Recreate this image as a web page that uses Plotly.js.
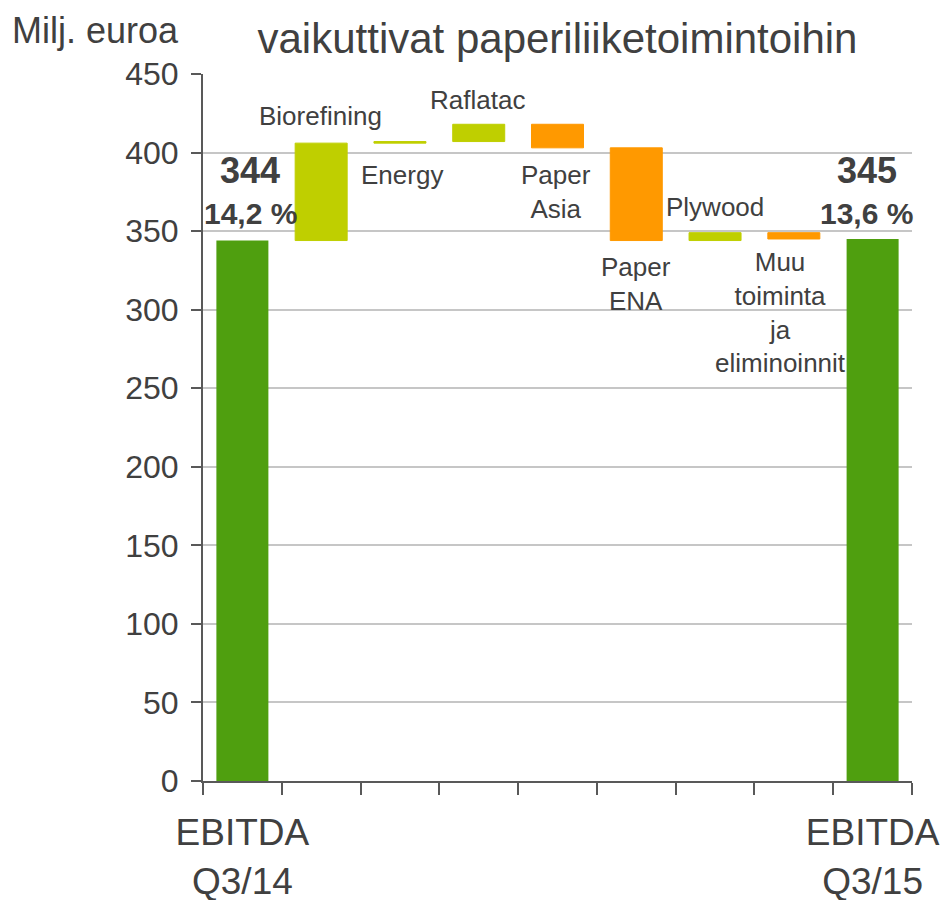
<!DOCTYPE html>
<html>
<head>
<meta charset="utf-8">
<script src="https://cdn.plot.ly/plotly-3.0.1.min.js"></script>
<style>html,body{margin:0;padding:0;background:#fff;}#chart{width:945px;height:900px;}</style>
</head>
<body>
<div id="chart"></div>
<script>
// Data
var categories = ["EBITDA Q3/14", "Biorefining", "Energy", "Raflatac", "Paper Asia", "Paper ENA", "Plywood", "Muu toiminta ja eliminoinnit", "EBITDA Q3/15"];
var measures = ["absolute", "relative", "relative", "relative", "relative", "relative", "relative", "relative", "total"];
var values = [344, 62, 1, 11, -15, -59, 5, -4, 0];
var tickLabels = ["EBITDA<br>Q3/14", "", "", "", "", "", "", "", "EBITDA<br>Q3/15"];
var barLabels = ["", "Biorefining", "Energy", "Raflatac", "Paper<br>Asia", "Paper<br>ENA", "Plywood", "Muu<br>toiminta<br>ja<br>eliminoinnit", ""];
var totalValues = ["344", "345"];
var margins = ["14,2 %", "13,6 %"];

var FONT = "Liberation Sans, Arial, Helvetica, sans-serif";
var TXT = "#404040";

var trace = {
  type: "waterfall",
  x: categories,
  y: values,
  measure: measures,
  width: 0.66,
  connector: {visible: false},
  increasing: {marker: {color: "#BFCF00", line: {color: "#BFCF00", width: 1}}},
  decreasing: {marker: {color: "#FF9900", line: {color: "#FF9900", width: 1}}},
  totals: {marker: {color: "#4F9F0F"}},
  textinfo: "none",
  hoverinfo: "x+y"
};

// label positions (data y, x pixel shift)
var labelY = [null, 423.3, 385.7, 433.5, 374.6, 316.3, 365.4, 298.2, null];
var labelShift = [0, -1, 2, -1, -2, 0, 0, -13, 0];
var annotations = [];
for (var i = 0; i < categories.length; i++) {
  if (!barLabels[i]) continue;
  annotations.push({
    x: categories[i], y: labelY[i], xref: "x", yref: "y",
    text: barLabels[i], showarrow: false, xshift: labelShift[i],
    xanchor: "center", yanchor: "middle",
    font: {family: FONT, size: 26, color: TXT}
  });
}
var endIdx = [0, categories.length - 1];
var endShift = [8, -6];
for (var j = 0; j < 2; j++) {
  annotations.push({
    x: categories[endIdx[j]], y: 388.5, xref: "x", yref: "y",
    text: "<b>" + totalValues[j] + "</b>", showarrow: false, xshift: endShift[j],
    xanchor: "center", yanchor: "middle",
    font: {family: FONT, size: 36, color: TXT}
  });
  annotations.push({
    x: categories[endIdx[j]], y: 361.4, xref: "x", yref: "y",
    text: "<b>" + margins[j] + "</b>", showarrow: false, xshift: endShift[j],
    xanchor: "center", yanchor: "middle",
    font: {family: FONT, size: 30, color: TXT}
  });
}
annotations.push({
  x: 0, y: 1, xref: "paper", yref: "paper", xshift: -193, yshift: 44,
  xanchor: "left", yanchor: "middle", showarrow: false,
  text: "Milj. euroa",
  font: {family: FONT, size: 36, color: TXT}
});

var layout = {
  width: 945, height: 900,
  margin: {l: 203, r: 33, t: 74, b: 119},
  paper_bgcolor: "#fff", plot_bgcolor: "#fff",
  showlegend: false,
  font: {family: FONT, color: TXT},
  title: {
    text: "vaikuttivat paperiliiketoimintoihin",
    font: {family: FONT, size: 42, color: TXT},
    xref: "paper", x: 0.5, xanchor: "center",
    yref: "container", y: 1 - 38 / 900, yanchor: "middle"
  },
  xaxis: {
    type: "category",
    range: [-0.5, 8.5],
    tickmode: "array",
    tickvals: categories,
    ticktext: tickLabels,
    tickson: "boundaries",
    tickangle: 0,
    ticks: "outside", ticklen: 12, tickwidth: 2, tickcolor: "#595959",
    showline: true, linecolor: "#595959", linewidth: 2,
    showgrid: false, zeroline: false,
    tickfont: {family: FONT, size: 37, color: TXT},
    ticklabelstandoff: 18,
    fixedrange: true
  },
  yaxis: {
    range: [0, 450],
    dtick: 50, tick0: 0,
    ticks: "outside", ticklen: 10, tickwidth: 2, tickcolor: "#595959",
    showline: true, linecolor: "#595959", linewidth: 2,
    showgrid: true, gridcolor: "#C6C6C6", gridwidth: 2,
    zeroline: false,
    tickfont: {family: FONT, size: 32, color: TXT},
    ticklabelstandoff: 6,
    fixedrange: true
  },
  annotations: annotations
};

Plotly.newPlot("chart", [trace], layout, {displayModeBar: false, staticPlot: true});
</script>
</body>
</html>
